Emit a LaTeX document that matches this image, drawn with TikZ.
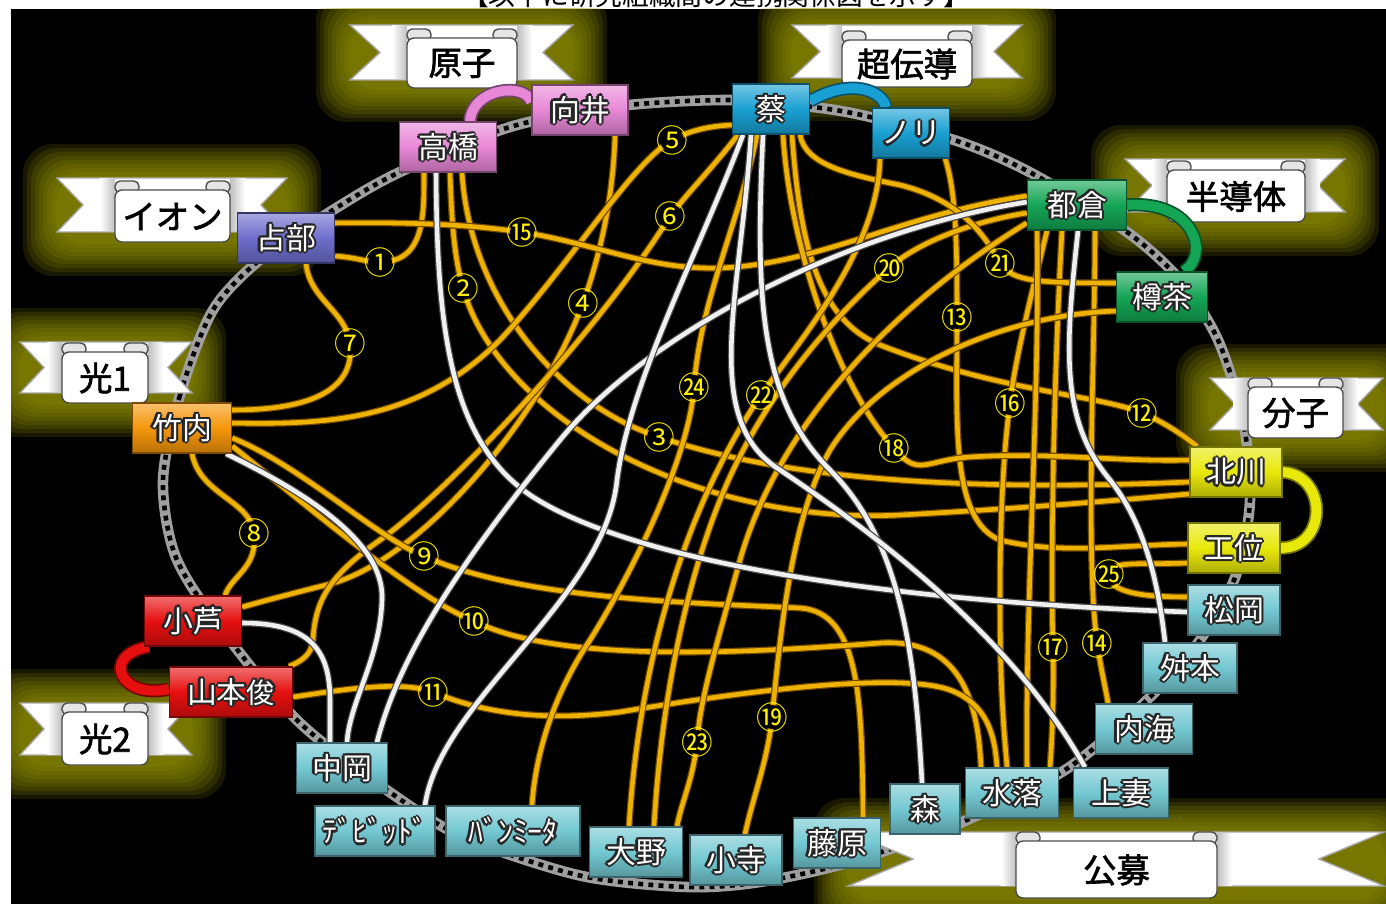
\documentclass[tikz,border=0pt]{standalone}
\usepackage{fontspec}
\setmainfont{Noto Sans CJK JP}[AutoFakeBold=2]
\usetikzlibrary{calc}

\pgfdeclarelayer{back}
\pgfdeclarelayer{wires}
\pgfsetlayers{back,wires,main}

\definecolor{goldline}{RGB}{238,178,0}
\definecolor{golddark}{RGB}{110,70,0}
\definecolor{glowcol}{RGB}{150,150,0}
\definecolor{pinkbox}{RGB}{232,135,215}
\definecolor{bluebox}{RGB}{25,160,210}
\definecolor{greenbox}{RGB}{20,165,85}
\definecolor{purplebox}{RGB}{110,110,205}
\definecolor{orangebox}{RGB}{245,150,10}
\definecolor{yellowbox}{RGB}{232,232,10}
\definecolor{cyanbox}{RGB}{115,200,210}
\definecolor{redbox}{RGB}{230,15,15}

% white letters with a dark rim
\newcommand\edgetext[1]{\setbox0=\hbox{#1}%
  \rlap{\color{black!85}\kern-0.65pt\copy0}%
  \rlap{\color{black!85}\kern0.65pt\copy0}%
  \rlap{\color{black!85}\raisebox{0.65pt}{\copy0}}%
  \rlap{\color{black!85}\raisebox{-0.65pt}{\copy0}}%
  \rlap{\color{black!85}\kern-0.45pt\raisebox{0.45pt}{\copy0}}%
  \rlap{\color{black!85}\kern0.45pt\raisebox{-0.45pt}{\copy0}}%
  \rlap{\color{black!85}\kern0.45pt\raisebox{0.45pt}{\copy0}}%
  \rlap{\color{black!85}\kern-0.45pt\raisebox{-0.45pt}{\copy0}}%
  \copy0}

\begin{document}
\begin{tikzpicture}[x=0.01cm, y=-0.01cm,
    namebox/.style={rectangle, minimum height=0.5cm, inner xsep=0.06cm, inner ysep=0pt,
      text=white, font=\fontsize{8.5}{9}\selectfont, draw=#1!50!black, line width=0.4pt,
      top color=#1!60!white, bottom color=#1!75!black, middle color=#1},
    gold/.style={draw=golddark, line width=0.35pt, double=goldline, double distance=1.3pt},
    silver/.style={draw=gray!55!black, line width=0.35pt, double=white!88!gray, double distance=1.3pt},
    tube/.style={draw=#1!50!black, line width=0.5pt, double=#1, double distance=2.8pt},
    num/.style={text=yellow, font=\fontsize{9}{9}\selectfont, inner sep=0pt},
    banner/.style={text=black, font=\bfseries\fontsize{9.5}{10}\selectfont, inner sep=0pt}]

    \useasboundingbox (0,0) rectangle (1386,904);

    % --- BACKGROUND ---
    \begin{pgfonlayer}{back}
        \node[font=\fontsize{7.6}{8}\selectfont] (title) at (716,-5) {【以下に研究組織間の連携関係図を示す】};
        \fill[black] (11,9) rectangle (1386,904);

        % glow round the ribbons
        \begin{scope}
            \clip (11,9) rectangle (1386,904);
            \foreach \xl/\xr/\yt/\bb in {350/573/25/88, 792/1022/25/87, 57/287/178/242, 20/192/342/403,
                    1125/1345/159/222, 1210/1383/378/438, 20/192/703/765, 848/1384/832/898} {
                \foreach \g in {34,30,...,2}
                    \fill[glowcol, opacity=0.16, rounded corners=0.3cm] (\xl-\g,\yt-\g) rectangle (\xr+\g,\bb+\g);
            }
        \end{scope}

        % dotted ring
        \draw[gray!75, line width=3pt] plot[smooth cycle] coordinates {(163,480) (180,395) (213,310) (262,258)
            (333,210) (400,172) (510,127) (620,106) (730,100) (813,107) (870,117) (963,143) (1035,175)
            (1127,232) (1180,280) (1218,340) (1243,420) (1250,500) (1236,575) (1200,640) (1150,697)
            (1068,768) (960,823) (850,862) (760,882) (687,887) (582,876) (470,840) (404,802) (300,723)
            (217,623) (175,555)};
        \draw[black, line width=1.3pt, dash pattern=on 1.4pt off 1.5pt] plot[smooth cycle] coordinates {(163,480)
            (180,395) (213,310) (262,258) (333,210) (400,172) (510,127) (620,106) (730,100) (813,107)
            (870,117) (963,143) (1035,175) (1127,232) (1180,280) (1218,340) (1243,420) (1250,500)
            (1236,575) (1200,640) (1150,697) (1068,768) (960,823) (850,862) (760,882) (687,887)
            (582,876) (470,840) (404,802) (300,723) (217,623) (175,555)};

        % ribbons
        \foreach \nm/\txt/\xl/\xr/\yt/\yb/\nd/\bl/\br/\bt/\bb in {genshi/原子/350/573/25/80/30/407/517/33/88,
                chodendo/超伝導/792/1022/25/78/28/842/972/35/87, ion/イオン/57/287/178/232/26/115/230/185/242,
                hikari1/光1/20/192/342/393/24/62/148/347/403, handotai/半導体/1125/1345/159/212/27/1167/1305/165/222,
                bunshi/分子/1210/1383/378/430/25/1248/1343/382/438, hikari2/光2/20/192/703/755/24/62/148/707/765,
                kobo/公募/848/1384/832/886/65/1016/1217/836/898} {
            \path[fill=white, draw=gray!70] (\xl,\yt) -- (\xr,\yt) -- (\xr-\nd,{(\yt+\yb)/2}) -- (\xr,\yb)
                -- (\xl,\yb) -- (\xl+\nd,{(\yt+\yb)/2}) -- cycle;
            \shade[left color=white, right color=gray!50] (\bl-15,\yt+1) rectangle (\bl,\yb-1);
            \shade[left color=gray!50, right color=white] (\br,\yt+1) rectangle (\br+15,\yb-1);
            \draw[gray!60!black, fill=gray!20, rounded corners=1.5pt] (\bl,\bt+8) rectangle (\bl+24,\bt-4);
            \draw[gray!60!black, fill=gray!20, rounded corners=1.5pt] (\br-24,\bt+8) rectangle (\br,\bt-4);
            \draw[gray!60!black, fill=white, rounded corners=2pt] (\bl,\bt+5) rectangle (\br,\bb);
            \node[banner] (\nm) at ({(\bl+\br)/2},{(\bt+\bb)/2+3}) {\txt};
        }
    \end{pgfonlayer}

    % --- MEMBERS ---
    \foreach \nm/\txt/\px/\py/\bw/\col in {mukai/向井/580/110/96/pinkbox, takahashi/高橋/448/147/97/pinkbox,
            sai/蔡/771/109/77/bluebox, nori/ノリ/911/133/77/bluebox, tokura/都倉/1077/205/99/greenbox,
            taruc/樽茶/1162/297/91/greenbox, urabe/占部/286/238/97/purplebox, takeuchi/竹内/182/428/99/orangebox,
            kitagawa/北川/1236/472/92/yellowbox, kui/工位/1234/548/92/yellowbox, matsuoka/松岡/1234/610/92/cyanbox,
            masumoto/舛本/1190/668/94/cyanbox, utsumi/内海/1144/729/97/cyanbox, kozuma/上妻/1121/793/95/cyanbox,
            mizuochi/水落/1012/793/93/cyanbox, mori/森/925/809/70/cyanbox, fujiwara/藤原/837/843/87/cyanbox,
            kodera/小寺/736/860/92/cyanbox, ono/大野/636/852/93/cyanbox, vanmieta/ﾊﾞﾝﾐｰﾀ/513/831/134/cyanbox,
            david/ﾃﾞﾋﾞｯﾄﾞ/375/831/120/cyanbox, nakaoka/中岡/342/768/91/cyanbox, koashi/小芦/193/621/97/redbox,
            yamamoto/{山本{\footnotesize 俊}}/231/692/123/redbox} {
        \node[namebox=\col, minimum width=\bw*0.01cm] (\nm) at (\px,\py) {\edgetext{\txt}};
    }

    % --- LINKS ---
    \begin{pgfonlayer}{wires}
        % same group
        \draw[tube=pinkbox] ($(takahashi.north)+(22,0)$) .. controls (472,88) and (525,82) .. ($(mukai.west)+(0,-8)$);
        \draw[tube=bluebox] ($(sai.east)+(0,-8)$) .. controls (850,78) and (882,90) .. ($(nori.north)+(-25,0)$);
        \draw[tube=greenbox] (tokura.east) .. controls (1195,200) and (1210,255) .. ($(taruc.north)+(22,0)$);
        \draw[tube=yellowbox] (kitagawa.east) .. controls (1328,475) and (1328,548) .. (kui.east);
        \draw[tube=redbox] ($(koashi.south west)+(5,0)$) .. controls (100,655) and (120,700) .. ($(yamamoto.west)+(0,-3)$);

        % numbered links
        \draw[gold] ($(urabe.east)+(0,18)$) .. controls (360,258) and (365,262) .. (380,262)
            .. controls (425,262) and (424,215) .. ($(takahashi.south)+(-24,0)$);
        \draw[gold] ($(takahashi.south)+(2,0)$) .. controls (452,230) and (455,260) .. (463,288)
            .. controls (500,420) and (700,525) .. (900,515) .. controls (1030,508) and (1120,500) .. ($(kitagawa.west)+(0,22)$);
        \draw[gold] ($(takahashi.south)+(14,0)$) .. controls (470,300) and (560,405) .. (659,437)
            .. controls (800,485) and (1000,490) .. ($(kitagawa.west)+(0,10)$);
        \draw[gold] ($(mukai.south)+(35,0)$) .. controls (613,200) and (600,255) .. (583,303)
            .. controls (540,420) and (420,560) .. (330,584) .. controls (290,594) and (260,602) .. ($(koashi.east)+(0,-14)$);
        \draw[gold] ($(takeuchi.east)+(0,-5)$) .. controls (330,425) and (420,420) .. (500,340)
            .. controls (570,265) and (630,165) .. (672,140) .. controls (695,128) and (715,126) .. ($(sai.west)+(0,16)$);
        \draw[gold] ($(sai.south)+(-33,0)$) .. controls (715,165) and (690,190) .. (670,216)
            .. controls (600,330) and (450,490) .. (380,540) .. controls (330,575) and (315,600) .. (313,640)
            .. controls (312,655) and (300,662) .. ($(yamamoto.north)+(58,0)$);
        \draw[gold] ($(urabe.south)+(20,0)$) .. controls (310,300) and (345,310) .. (350,343)
            .. controls (356,395) and (300,410) .. ($(takeuchi.east)+(0,-18)$);
        \draw[gold] ($(takeuchi.south)+(10,0)$) .. controls (200,495) and (250,500) .. (254,533)
            .. controls (258,568) and (232,575) .. ($(koashi.north)+(32,0)$);
        \draw[gold] ($(takeuchi.east)+(0,10)$) .. controls (300,465) and (380,540) .. (424,556)
            .. controls (520,600) and (700,603) .. (800,608) .. controls (860,612) and (862,700) .. ($(fujiwara.north)+(26,0)$);
        \draw[gold] ($(takeuchi.east)+(0,18)$) .. controls (330,525) and (420,600) .. (474,621)
            .. controls (560,665) and (760,652) .. (880,643) .. controls (960,638) and (978,700) .. ($(mizuochi.north)+(-31,0)$);
        \draw[gold] ($(yamamoto.east)+(0,5)$) .. controls (340,690) and (400,680) .. (433,692)
            .. controls (480,712) and (540,722) .. (620,712) .. controls (750,690) and (900,672) .. (950,690)
            .. controls (990,705) and (995,740) .. ($(mizuochi.north)+(-15,0)$);
        \draw[gold] ($(sai.south)+(21,0)$) .. controls (800,250) and (820,320) .. (880,345)
            .. controls (1000,392) and (1100,395) .. (1142,413) .. controls (1168,424) and (1185,437) .. ($(kitagawa.north west)+(8,0)$);
        \draw[gold] ($(nori.south east)+(-5,0)$) .. controls (955,190) and (957,230) .. (957,317)
            .. controls (957,420) and (950,520) .. (1000,540) .. controls (1060,555) and (1120,545) .. ($(kui.west)+(0,-4)$);
        \draw[gold] ($(tokura.south)+(18,0)$) .. controls (1095,350) and (1085,550) .. (1097,643)
            .. controls (1102,675) and (1106,690) .. ($(utsumi.north)+(-36,0)$);
        \draw[gold] ($(urabe.east)+(0,-15)$) .. controls (420,222) and (470,225) .. (522,232)
            .. controls (600,245) and (650,270) .. (720,268) .. controls (820,264) and (900,215) .. ($(tokura.west)+(0,-9)$);
        \draw[gold] ($(tokura.south)+(-30,0)$) .. controls (1030,300) and (1015,360) .. (1010,403)
            .. controls (1005,440) and (1000,500) .. (1000,600) .. controls (1000,700) and (1005,740) .. ($(mizuochi.north)+(-5,0)$);
        \draw[gold] ($(tokura.south)+(-15,0)$) .. controls (1055,350) and (1050,550) .. (1053,647)
            .. controls (1054,700) and (1052,740) .. ($(mizuochi.north)+(38,0)$);
        \draw[gold] ($(sai.south)+(12,0)$) .. controls (790,250) and (840,390) .. (894,448)
            .. controls (918,478) and (925,460) .. (970,457) .. controls (1050,452) and (1120,462) .. ($(kitagawa.west)+(0,-12)$);
        \draw[gold] ($(taruc.west)+(0,14)$) .. controls (1000,315) and (880,370) .. (830,450)
            .. controls (790,520) and (780,640) .. (772,717) .. controls (768,760) and (752,800) .. ($(kodera.north)+(9,0)$);
        \draw[gold] ($(tokura.west)+(0,8)$) .. controls (980,220) and (920,240) .. (889,268)
            .. controls (830,320) and (760,400) .. (720,500) .. controls (680,600) and (660,720) .. ($(ono.north)+(18,0)$);
        \draw[gold] ($(sai.south)+(29,0)$) .. controls (805,165) and (850,175) .. (900,185)
            .. controls (960,200) and (985,235) .. (1000,263) .. controls (1012,282) and (1040,283) .. ($(taruc.west)+(0,-14)$);
        \draw[gold] ($(nori.south)+(-31,0)$) .. controls (878,250) and (800,340) .. (761,395)
            .. controls (690,500) and (640,650) .. ($(ono.north)+(-7,0)$);
        \draw[gold] ($(tokura.west)+(0,18)$) .. controls (900,300) and (780,420) .. (740,560)
            .. controls (715,650) and (700,700) .. (697,742) .. controls (693,780) and (682,800) .. ($(ono.north)+(41,0)$);
        \draw[gold] ($(sai.south)+(-14,0)$) .. controls (740,220) and (700,300) .. (694,387)
            .. controls (690,450) and (640,560) .. (590,640) .. controls (550,700) and (535,760) .. ($(vanmieta.north)+(19,0)$);
        \draw[gold] ($(kui.west)+(0,15)$) .. controls (1140,565) and (1110,560) .. (1109,574)
            .. controls (1108,592) and (1140,597) .. ($(matsuoka.west)+(0,-13)$);
        \draw[gold] ($(tokura.south)+(-40,0)$) .. controls (1040,400) and (1025,600) .. ($(mizuochi.north)+(15,0)$);

        % silver links
        \draw[silver] ($(takahashi.south)+(-12,0)$) .. controls (437,330) and (450,440) .. (530,495)
            .. controls (620,555) and (850,600) .. ($(matsuoka.west)+(0,2)$);
        \draw[silver] ($(takeuchi.south east)+(-6,0)$) .. controls (300,490) and (385,540) .. (382,600)
            .. controls (380,660) and (350,700) .. ($(nakaoka.north)+(5,0)$);
        \draw[silver] ($(koashi.east)+(0,2)$) .. controls (310,623) and (330,650) .. (330,700)
            .. controls (330,720) and (330,730) .. ($(nakaoka.north)+(-12,0)$);
        \draw[silver] ($(tokura.west)+(0,-3)$) .. controls (850,230) and (650,330) .. (560,440)
            .. controls (470,550) and (400,650) .. ($(nakaoka.north)+(35,0)$);
        \draw[silver] ($(sai.south)+(-28,0)$) .. controls (700,250) and (630,380) .. (617,480)
            .. controls (605,600) and (440,700) .. ($(david.north)+(50,0)$);
        \draw[silver] ($(sai.south)+(-8,0)$) .. controls (755,300) and (760,400) .. (830,470)
            .. controls (900,540) and (915,650) .. ($(mori.north)+(-3,0)$);
        \draw[silver] ($(sai.south)+(-20,0)$) .. controls (740,300) and (700,420) .. (780,470)
            .. controls (900,550) and (1020,650) .. ($(kozuma.north)+(-36,0)$);
        \draw[silver] ($(tokura.south)+(1,0)$) .. controls (1065,350) and (1060,420) .. (1110,480)
            .. controls (1150,530) and (1160,600) .. ($(masumoto.north)+(-25,0)$);
    \end{pgfonlayer}

    % --- NUMBERS ---
    \foreach \k/\sym/\px/\py in {1/①/380/262, 2/②/463/288, 3/③/659/437, 4/④/583/303, 5/⑤/672/140,
            6/⑥/670/216, 7/⑦/350/343, 8/⑧/254/533, 9/⑨/424/556, 10/⑩/474/621, 11/⑪/433/692,
            12/⑫/1142/413, 13/⑬/957/317, 14/⑭/1097/643, 15/⑮/522/232, 16/⑯/1010/403, 17/⑰/1053/647,
            18/⑱/894/448, 19/⑲/772/717, 20/⑳/889/268, 21/㉑/1000/263, 22/㉒/761/395, 23/㉓/697/742,
            24/㉔/694/387, 25/㉕/1109/574} {
        \fill[black] (\px,\py) circle (0.12cm);
        \node[num] (n\k) at (\px,\py) {\sym};
    }

\end{tikzpicture}
\end{document}
